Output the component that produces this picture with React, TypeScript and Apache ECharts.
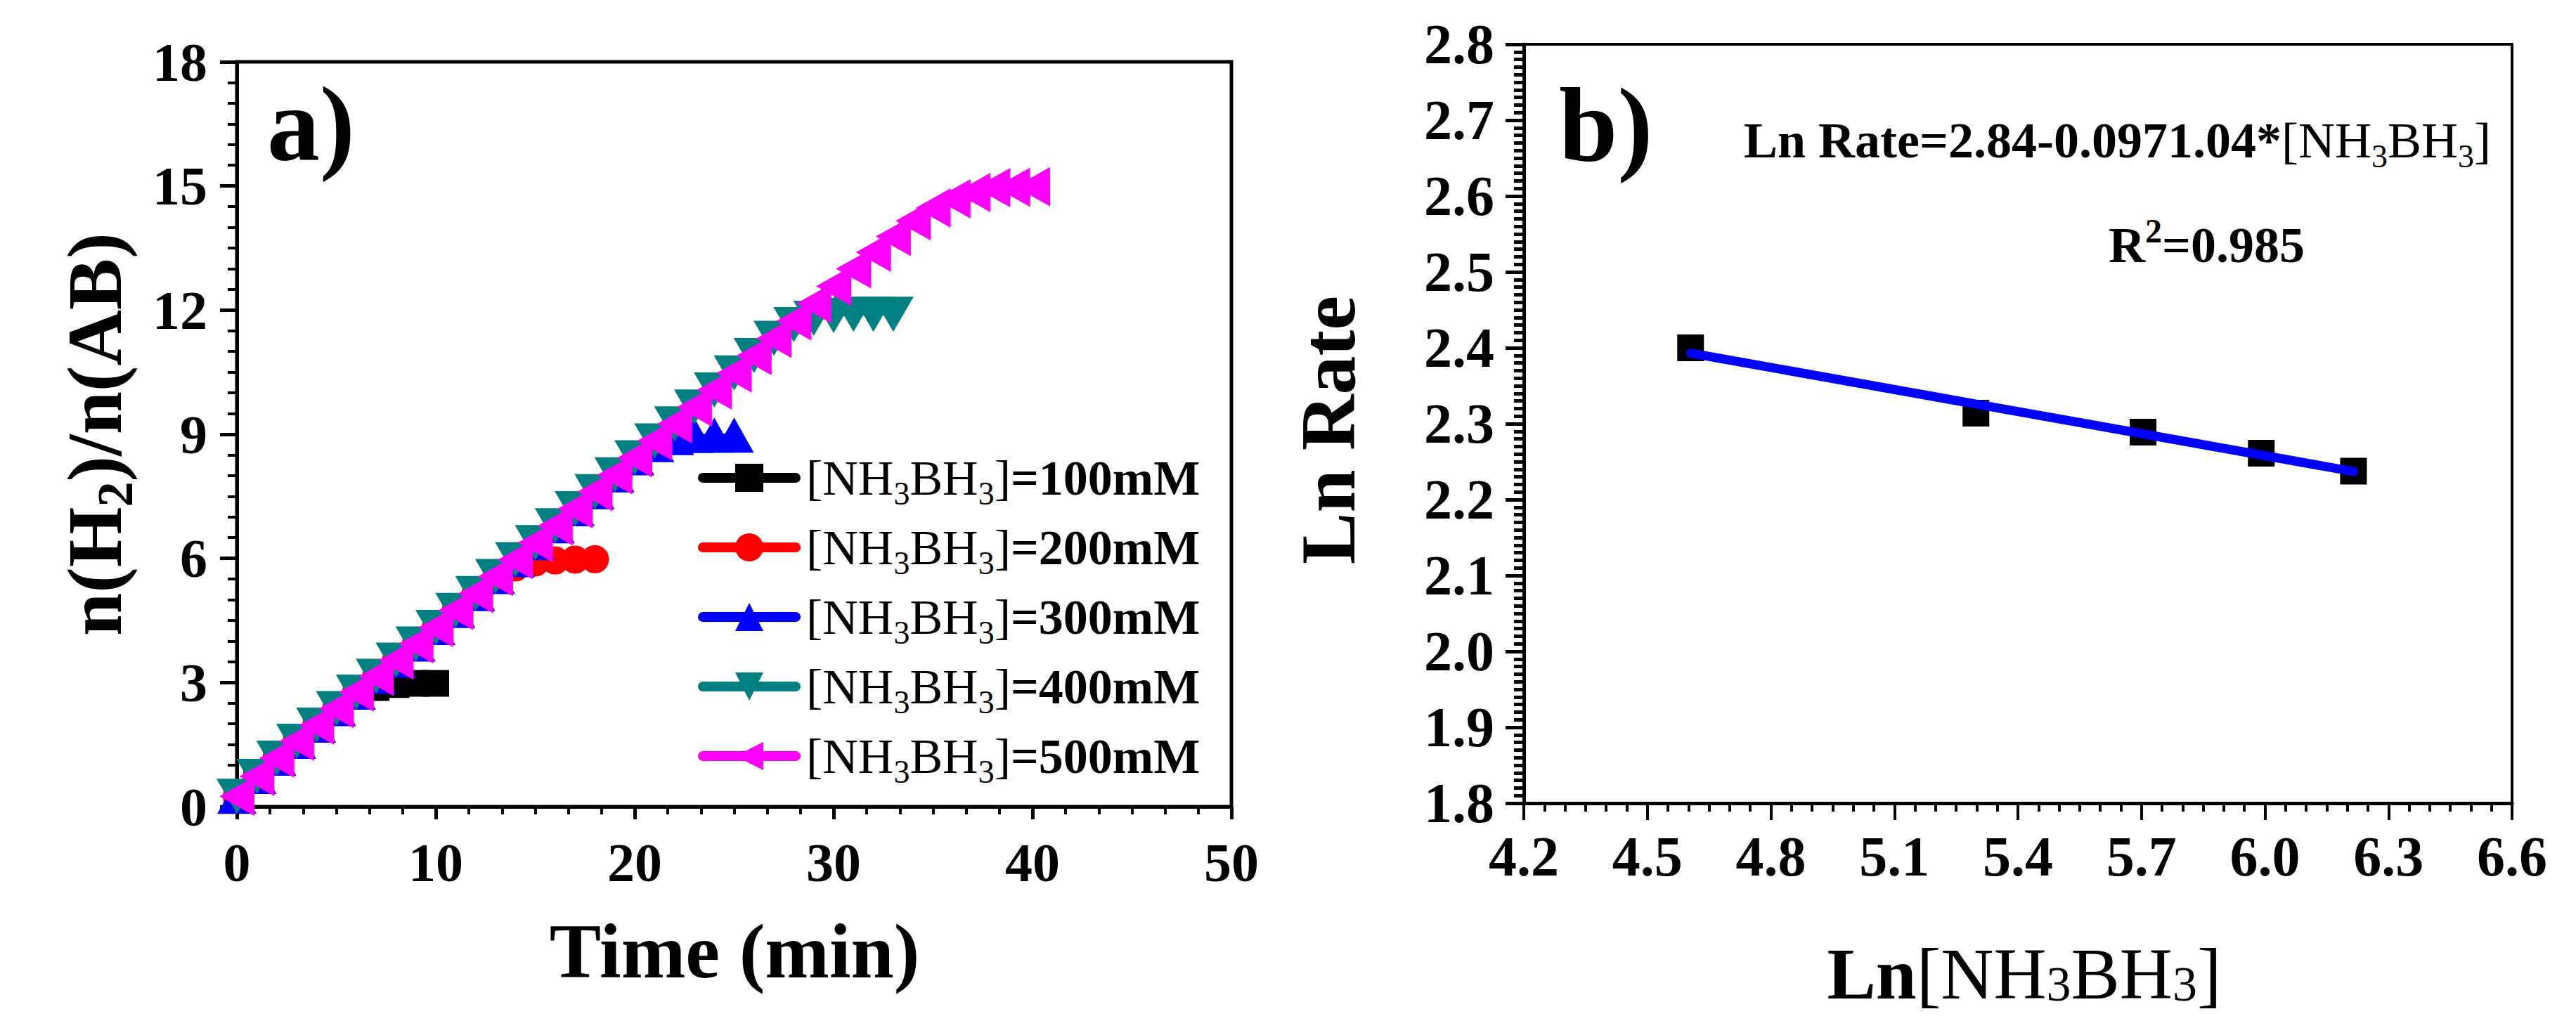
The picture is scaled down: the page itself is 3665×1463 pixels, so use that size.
import React, { useEffect, useRef } from "react";
import * as echarts from "echarts";

// ---------- data ----------
const TIME = [0, 1, 2, 3, 4, 5, 6, 7, 8, 9, 10, 11, 12, 13, 14, 15, 16, 17, 18, 19, 20, 21, 22, 23, 24, 25, 26, 27, 28, 29, 30, 31, 32, 33, 34, 35, 36, 37, 38, 39, 40];
const V100 = [0.25, 0.73, 1.17, 1.58, 1.97, 2.37, 2.7, 2.88, 2.95, 2.98, 2.98];
const V200 = [0.25, 0.73, 1.17, 1.58, 1.97, 2.37, 2.77, 3.15, 3.54, 3.93, 4.33, 4.74, 5.15, 5.5, 5.78, 5.9, 5.95, 5.97, 5.98];
const V300 = [0.25, 0.73, 1.17, 1.58, 1.97, 2.37, 2.77, 3.15, 3.54, 3.93, 4.33, 4.74, 5.15, 5.56, 5.97, 6.38, 6.79, 7.2, 7.61, 8.02, 8.43, 8.75, 8.92, 8.97, 8.98, 8.98];
const V400 = [0.25, 0.73, 1.17, 1.58, 1.97, 2.37, 2.77, 3.15, 3.54, 3.93, 4.33, 4.74, 5.15, 5.56, 5.97, 6.38, 6.79, 7.2, 7.61, 8.02, 8.43, 8.84, 9.25, 9.66, 10.07, 10.48, 10.9, 11.32, 11.65, 11.8, 11.87, 11.9, 11.9, 11.9];
const V500 = [0.25, 0.73, 1.17, 1.58, 1.97, 2.37, 2.77, 3.15, 3.54, 3.93, 4.33, 4.74, 5.15, 5.56, 5.97, 6.38, 6.79, 7.2, 7.61, 8.02, 8.43, 8.84, 9.25, 9.66, 10.07, 10.48, 10.9, 11.32, 11.74, 12.16, 12.58, 13.0, 13.4, 13.78, 14.16, 14.47, 14.69, 14.84, 14.96, 14.97, 14.98];
const CONC_LABELS = ["100", "200", "300", "400", "500"];

const LN_CONC = [4.605, 5.298, 5.704, 5.991, 6.215];
const LN_RATE = [2.4, 2.314, 2.289, 2.261, 2.2375];
const FIT_X = [4.605, 6.215];
const FIT_Y = [2.393, 2.237];

// ---------- styles ----------
const SERIF = "Liberation Serif";
const COLORS = ["#000000", "#FF0000", "#0000FF", "#008080", "#FF00FF"];

function rich(F: number, f: number, L: number, d: number, u: number) {
  const base = { fontFamily: SERIF, color: "#000", fill: "#000" };
  const subLH = L - 2 * d - 0.66 * (F - f);
  const supLH = L + 0.66 * (F - f) - 2 * u;
  return {
    b: { ...base, fontSize: F, fontWeight: "bold", lineHeight: L, verticalAlign: "middle" },
    r: { ...base, fontSize: F, fontWeight: "normal", lineHeight: L, verticalAlign: "middle" },
    sb: { ...base, fontSize: f, fontWeight: "bold", lineHeight: subLH, verticalAlign: "bottom" },
    sr: { ...base, fontSize: f, fontWeight: "normal", lineHeight: subLH, verticalAlign: "bottom" },
    up: { ...base, fontSize: f, fontWeight: "bold", lineHeight: supLH, verticalAlign: "top" },
  };
}

function zip(xs: number[], ys: number[]) {
  return ys.map((y, i) => [xs[i], y]);
}

const SERIES_VALUES = [V100, V200, V300, V400, V500];
const SYMBOLS = ["rect", "circle", "triangle", "triangle", "triangle"];
const ROTATES = [0, 0, 0, 180, 90];
const SIZES: any[] = [38, 40, [56, 50], [58, 50], [56, 50]];
const NAME = (c: string) => `[NH3BH3]=${c}mM`;

const LEGEND_CENTERS = [690, 789, 888, 987, 1086];

export default function App() {
  const ref = useRef<HTMLDivElement>(null);
  useEffect(() => {
    document.body.style.margin = "0";
    const chart = echarts.init(ref.current!, undefined, { renderer: "svg" });

    const labelStyle = (fs: number, margin: number, digits: number) => ({
      show: true,
      margin,
      formatter: (v: number) => `{t|${digits > 0 ? v.toFixed(digits) : String(Math.round(v))}}`,
      rich: {
        t: { fontFamily: SERIF, fontWeight: "bold", fontSize: fs, color: "#000", lineHeight: fs },
      },
    });
    const axisLine = { show: true, onZero: false, lineStyle: { color: "#000", width: 5 } };

    const legendRich = rich(70, 46, 90, 18, 0);

    const option: any = {
      animation: false,
      backgroundColor: "#ffffff",
      textStyle: { fontFamily: SERIF, color: "#000" },
      grid: [
        { left: 337, top: 88, width: 1415, height: 1060, show: true, borderColor: "#000", borderWidth: 5, backgroundColor: "transparent" },
        { left: 2168, top: 63, width: 1406, height: 1080, show: true, borderColor: "#000", borderWidth: 4, backgroundColor: "transparent" },
      ],
      xAxis: [
        {
          type: "value", gridIndex: 0, min: 0, max: 50, interval: 10,
          axisLine, splitLine: { show: false }, minorSplitLine: { show: false },
          axisTick: { show: true, inside: false, length: 18, lineStyle: { color: "#000", width: 5 } },
          minorTick: { show: true, splitNumber: 6, length: 11, lineStyle: { color: "#000", width: 4 } },
          axisLabel: labelStyle(78, 40, 0),
        },
        {
          type: "value", gridIndex: 1, min: 4.2, max: 6.6, interval: 0.3,
          axisLine, splitLine: { show: false }, minorSplitLine: { show: false },
          axisTick: { show: true, inside: false, length: 24, lineStyle: { color: "#000", width: 4 } },
          minorTick: { show: true, splitNumber: 6, length: 12, lineStyle: { color: "#000", width: 4 } },
          axisLabel: labelStyle(80, 36, 1),
        },
      ],
      yAxis: [
        {
          type: "value", gridIndex: 0, min: 0, max: 18, interval: 3,
          axisLine, splitLine: { show: false }, minorSplitLine: { show: false },
          axisTick: { show: true, inside: false, length: 24, lineStyle: { color: "#000", width: 5 } },
          minorTick: { show: true, splitNumber: 6, length: 13, lineStyle: { color: "#000", width: 4 } },
          axisLabel: labelStyle(78, 42, 0),
        },
        {
          type: "value", gridIndex: 1, min: 1.8, max: 2.8, interval: 0.1,
          axisLine, splitLine: { show: false }, minorSplitLine: { show: false },
          axisTick: { show: true, inside: false, length: 26, lineStyle: { color: "#000", width: 5 } },
          minorTick: { show: true, splitNumber: 10, length: 14, lineStyle: { color: "#000", width: 5 } },
          axisLabel: labelStyle(80, 42, 1),
        },
      ],
      legend: CONC_LABELS.map((c, i) => ({
        data: [NAME(c)],
        left: 993,
        top: LEGEND_CENTERS[i] - 45,
        orient: "vertical",
        padding: 0,
        itemWidth: 132,
        itemHeight: 50,
        selectedMode: false,
        lineStyle: { width: 14, cap: "round" },
        formatter: () => `{r|[NH}{sr|3}{r|BH}{sr|3}{r|]}{b|=${c}mM}`,
        textStyle: { rich: legendRich, padding: [0, 0, 0, 10] },
      })),
      series: [
        ...SERIES_VALUES.map((vals, i) => ({
          type: "line",
          name: NAME(CONC_LABELS[i]),
          xAxisIndex: 0,
          yAxisIndex: 0,
          data: zip(TIME, vals),
          symbol: SYMBOLS[i],
          symbolRotate: ROTATES[i],
          symbolSize: SIZES[i],
          showSymbol: true,
          showAllSymbol: true,
          lineStyle: { color: COLORS[i], width: 4 },
          itemStyle: { color: COLORS[i], opacity: 1 },
          emphasis: { disabled: true },
        })),
        {
          type: "scatter",
          name: "points",
          xAxisIndex: 1,
          yAxisIndex: 1,
          data: zip(LN_CONC, LN_RATE),
          symbol: "rect",
          symbolSize: 38,
          itemStyle: { color: "#000", opacity: 1 },
          emphasis: { disabled: true },
        },
        {
          type: "line",
          name: "fit",
          xAxisIndex: 1,
          yAxisIndex: 1,
          data: zip(FIT_X, FIT_Y),
          showSymbol: false,
          symbol: "none",
          lineStyle: { color: "#0000FF", width: 13, cap: "round" },
          emphasis: { disabled: true },
        },
      ],
      graphic: [
        { type: "text", x: 380, y: 176, style: { text: "a)", fontFamily: SERIF, fontWeight: "bold", fontSize: 150, fill: "#000", align: "left", verticalAlign: "middle" } },
        { type: "text", x: 2218, y: 178, style: { text: "b)", fontFamily: SERIF, fontWeight: "bold", fontSize: 150, fill: "#000", align: "left", verticalAlign: "middle" } },
        {
          type: "text", x: 2481, y: 200,
          style: { text: "{b|Ln Rate=2.84-0.0971.04*}{r|[NH}{sr|3}{r|BH}{sr|3}{r|]}", rich: rich(72, 46, 90, 20, 0), align: "left", verticalAlign: "middle" },
        },
        {
          type: "text", x: 3000, y: 349,
          style: { text: "{b|R}{up|2}{b|=0.985}", rich: rich(72, 48, 90, 0, 44), align: "left", verticalAlign: "middle" },
        },
        {
          type: "text", x: 135, y: 618, rotation: Math.PI / 2,
          style: { text: "{b|n(H}{sb|2}{b|)/n(AB)}", rich: rich(110, 72, 130, 22, 0), align: "center", verticalAlign: "middle" },
        },
        {
          type: "text", x: 1045, y: 1354,
          style: { text: "{b|Time (min)}", rich: rich(110, 72, 130, 0, 0), align: "center", verticalAlign: "middle" },
        },
        {
          type: "text", x: 1890, y: 612, rotation: Math.PI / 2,
          style: { text: "{b|Ln Rate}", rich: rich(110, 72, 130, 0, 0), align: "center", verticalAlign: "middle" },
        },
        {
          type: "text", x: 2880, y: 1385,
          style: { text: "{b|Ln}{r|[NH}{sr|3}{r|BH}{sr|3}{r|]}", rich: rich(104, 70, 100, 16, 0), align: "center", verticalAlign: "middle" },
        },
      ],
    };

    chart.setOption(option);
    return () => chart.dispose();
  }, []);

  return <div ref={ref} style={{ position: "absolute", left: 0, top: 0, width: 3665, height: 1463, background: "#fff" }} />;
}
